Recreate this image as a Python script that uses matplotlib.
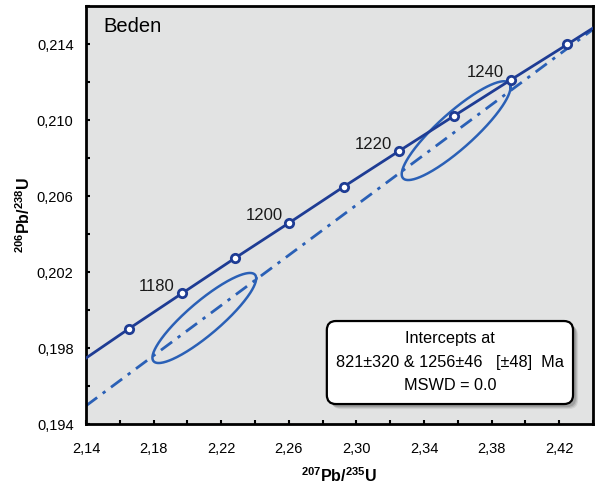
import numpy as np
import matplotlib
matplotlib.use("Agg")
import matplotlib.pyplot as plt
from matplotlib.patches import FancyBboxPatch
from matplotlib.ticker import FuncFormatter, MultipleLocator

plt.rcParams['font.family'] = ['Liberation Sans', 'DejaVu Sans']
plt.rcParams['mathtext.fontset'] = 'custom'
plt.rcParams['mathtext.rm'] = 'Liberation Sans'
plt.rcParams['mathtext.bf'] = 'Liberation Sans:bold'

# Concordia curve, incl. points at the axes edges
concordia_x = [2.140, 2.1653, 2.1967, 2.2283, 2.2604, 2.2925, 2.3251, 2.3580, 2.3913, 2.4248, 2.440]
concordia_y = [0.19747, 0.19901, 0.20087, 0.20274, 0.20460, 0.20649, 0.20836, 0.21023, 0.21211, 0.21398, 0.21484]

# Age markers every 10 Ma
marker_age = [1170, 1180, 1190, 1200, 1210, 1220, 1230, 1240, 1250]
marker_x = [2.1653, 2.1967, 2.2283, 2.2604, 2.2925, 2.3251, 2.3580, 2.3913, 2.4248]
marker_y = [0.19901, 0.20087, 0.20274, 0.20460, 0.20649, 0.20836, 0.21023, 0.21211, 0.21398]
labelled_ages = [1180, 1200, 1220, 1240]

# Discordia line
discordia_x = [2.140, 2.440]
discordia_y = [0.19496, 0.21477]

# Error ellipses: centre, half-extent in x and y, correlation
ell_cx = [2.210, 2.359]
ell_cy = [0.19958, 0.20944]
ell_sx = [0.0307, 0.0322]
ell_sy = [0.00237, 0.00260]
ell_rho = [0.88, 0.88]

x_ticks = [2.14, 2.18, 2.22, 2.26, 2.30, 2.34, 2.38, 2.42]
y_ticks = [0.194, 0.198, 0.202, 0.206, 0.210, 0.214]

BG = '#E2E3E3'
DARK = '#1E3C94'
LIGHT = '#2A60B6'

fig = plt.figure(figsize=(5.96, 4.88), dpi=100)
ax = fig.add_axes([0.1443, 0.1311, 0.8507, 0.8566])
ax.set_facecolor(BG)

# discordia
ax.plot(discordia_x, discordia_y, color=LIGHT, lw=2,
        linestyle=(0, (5, 2.5, 1.2, 2.5)), zorder=2)

# ellipses
t = np.linspace(0, 2 * np.pi, 300)
for cx, cy, sx, sy, r in zip(ell_cx, ell_cy, ell_sx, ell_sy, ell_rho):
    ex = cx + sx * np.cos(t)
    ey = cy + sy * (r * np.cos(t) + np.sqrt(1 - r**2) * np.sin(t))
    ax.plot(ex, ey, color=LIGHT, lw=1.8, zorder=3)

# concordia
ax.plot(concordia_x, concordia_y, color=DARK, lw=2, zorder=4)
ax.plot(marker_x, marker_y, 'o', ms=6, mfc='white', mec=DARK, mew=2, zorder=5)

for age, mx, my in zip(marker_age, marker_x, marker_y):
    if age in labelled_ages:
        ax.annotate(str(age), xy=(mx, my), xytext=(-5, 5), textcoords='offset points',
                    ha='right', va='center', fontsize=12, color='#1a1a1a')

ax.text(0.034, 0.952, 'Beden', transform=ax.transAxes, fontsize=14.5,
        ha='left', va='center')

# result box with shadow
bx, by, bw, bh = 0.475, 0.0478, 0.4856, 0.1986
asp = 507 / 418
for dx, a in [(0.010, 0.12), (0.008, 0.18), (0.006, 0.25)]:
    ax.add_patch(FancyBboxPatch((bx + dx, by - dx * asp), bw, bh,
                                boxstyle='round,pad=0,rounding_size=0.018',
                                mutation_aspect=asp, transform=ax.transAxes,
                                facecolor='#555555', edgecolor='none', alpha=a, zorder=6))
ax.add_patch(FancyBboxPatch((bx, by), bw, bh,
                            boxstyle='round,pad=0,rounding_size=0.018',
                            mutation_aspect=asp, transform=ax.transAxes,
                            facecolor='white', edgecolor='black', lw=1.6, zorder=7))
tx = bx + bw / 2
ax.text(tx, 0.204, 'Intercepts at', transform=ax.transAxes, ha='center', va='center',
        fontsize=11.7, zorder=8)
ax.text(tx, 0.146, '821\u00b1320 & 1256\u00b146   [\u00b148]  Ma', transform=ax.transAxes,
        ha='center', va='center', fontsize=11.7, zorder=8)
ax.text(tx, 0.093, 'MSWD = 0.0', transform=ax.transAxes, ha='center', va='center',
        fontsize=11.7, zorder=8)

ax.set_xlim(2.14, 2.44)
ax.set_ylim(0.194, 0.216)
ax.set_xticks(x_ticks)
ax.set_yticks(y_ticks)
ax.xaxis.set_minor_locator(MultipleLocator(0.02))
ax.yaxis.set_minor_locator(MultipleLocator(0.002))
comma = FuncFormatter(lambda v, p: ('%.2f' % v).replace('.', ','))
comma_y = FuncFormatter(lambda v, p: ('%.3f' % v).replace('.', ','))
ax.xaxis.set_major_formatter(comma)
ax.yaxis.set_major_formatter(comma_y)
ax.tick_params(which='both', direction='in', length=3, width=1.5, labelsize=10.5,
               top=False, right=False)
ax.tick_params(axis='x', which='major', pad=13)
ax.tick_params(axis='y', which='major', pad=9)
for s in ax.spines.values():
    s.set_linewidth(2)

ax.set_xlabel(r'$\mathbf{^{207}Pb/^{235}U}$', fontsize=11.5, labelpad=7)
ax.set_ylabel(r'$\mathbf{^{206}Pb/^{238}U}$', fontsize=11.5, labelpad=3)

fig.savefig('out.png', dpi=100, facecolor='white')
